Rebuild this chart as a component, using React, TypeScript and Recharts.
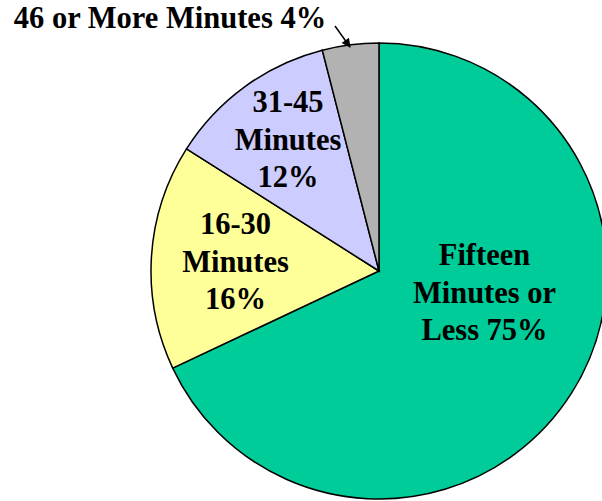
import { PieChart, Pie, Cell } from 'recharts';

// commute time categories, clockwise from 12 o'clock
const categories = ['Fifteen Minutes or Less', '16-30 Minutes', '31-45 Minutes', '46 or More Minutes'];
// slice sizes as drawn (degrees, in %)
const sliceValues = [68, 16, 12, 4];
// percentages printed in the labels
const labelPercents = [75, 16, 12, 4];
const labelLines = [
  ['Fifteen', 'Minutes or', 'Less 75%'],
  ['16-30', 'Minutes', '16%'],
  ['31-45', 'Minutes', '12%'],
  ['46 or More Minutes 4%'],
];
const colors = ['#00CC99', '#FFFF99', '#CCCCFF', '#B2B2B2'];

const data = categories.map((name, i) => ({ name, value: sliceValues[i], pct: labelPercents[i] }));

// label anchor offsets from the pie centre (first line baseline)
const labelOffsets = [
  { dx: 105.5, dy: -6 },
  { dx: -143.5, dy: -37 },
  { dx: -91, dy: -159 },
  { dx: -209, dy: -243 },
];

const FONT = "'Liberation Serif', 'Times New Roman', serif";

function renderLabel(props: any) {
  const { cx, cy, index } = props;
  const off = labelOffsets[index];
  const x = cx + off.dx;
  const y = cy + off.dy;
  const lines = labelLines[index];
  return (
    <g key={`lbl-${index}`}>
      <text
        x={x}
        y={y}
        textAnchor="middle"
        style={{ fontFamily: FONT, fontWeight: 700, fontSize: 30.5 }}
        fill="#000"
      >
        {lines.map((l, j) => (
          <tspan key={j} x={x} dy={j === 0 ? 0 : 37.5}>
            {l}
          </tspan>
        ))}
      </text>
      {index === 3 && (
        <line
          x1={cx - 44}
          y1={cy - 245}
          x2={cx - 29}
          y2={cy - 224}
          stroke="#000"
          strokeWidth={1.5}
          markerEnd="url(#arrowHead)"
        />
      )}
    </g>
  );
}

export default function App() {
  return (
    <div
      style={{
        position: 'absolute',
        left: 0,
        top: 0,
        width: 602,
        height: 501,
        background: '#fff',
        fontFamily: FONT,
      }}
    >
      <PieChart width={602} height={501} margin={{ top: 0, right: 0, bottom: 0, left: 0 }}>
        <defs>
          <marker id="arrowHead" viewBox="0 0 10 10" refX="9" refY="5" markerWidth="7" markerHeight="6" orient="auto">
            <path d="M0,0 L10,5 L0,10 z" fill="#000" />
          </marker>
        </defs>
        <Pie
          data={data}
          dataKey="value"
          nameKey="name"
          cx={379}
          cy={271}
          outerRadius={228}
          startAngle={90}
          endAngle={-270}
          stroke="#000"
          strokeWidth={1.5}
          label={renderLabel}
          labelLine={false}
          isAnimationActive={false}
        >
          {data.map((d, i) => (
            <Cell key={d.name} fill={colors[i]} />
          ))}
        </Pie>
      </PieChart>
    </div>
  );
}
